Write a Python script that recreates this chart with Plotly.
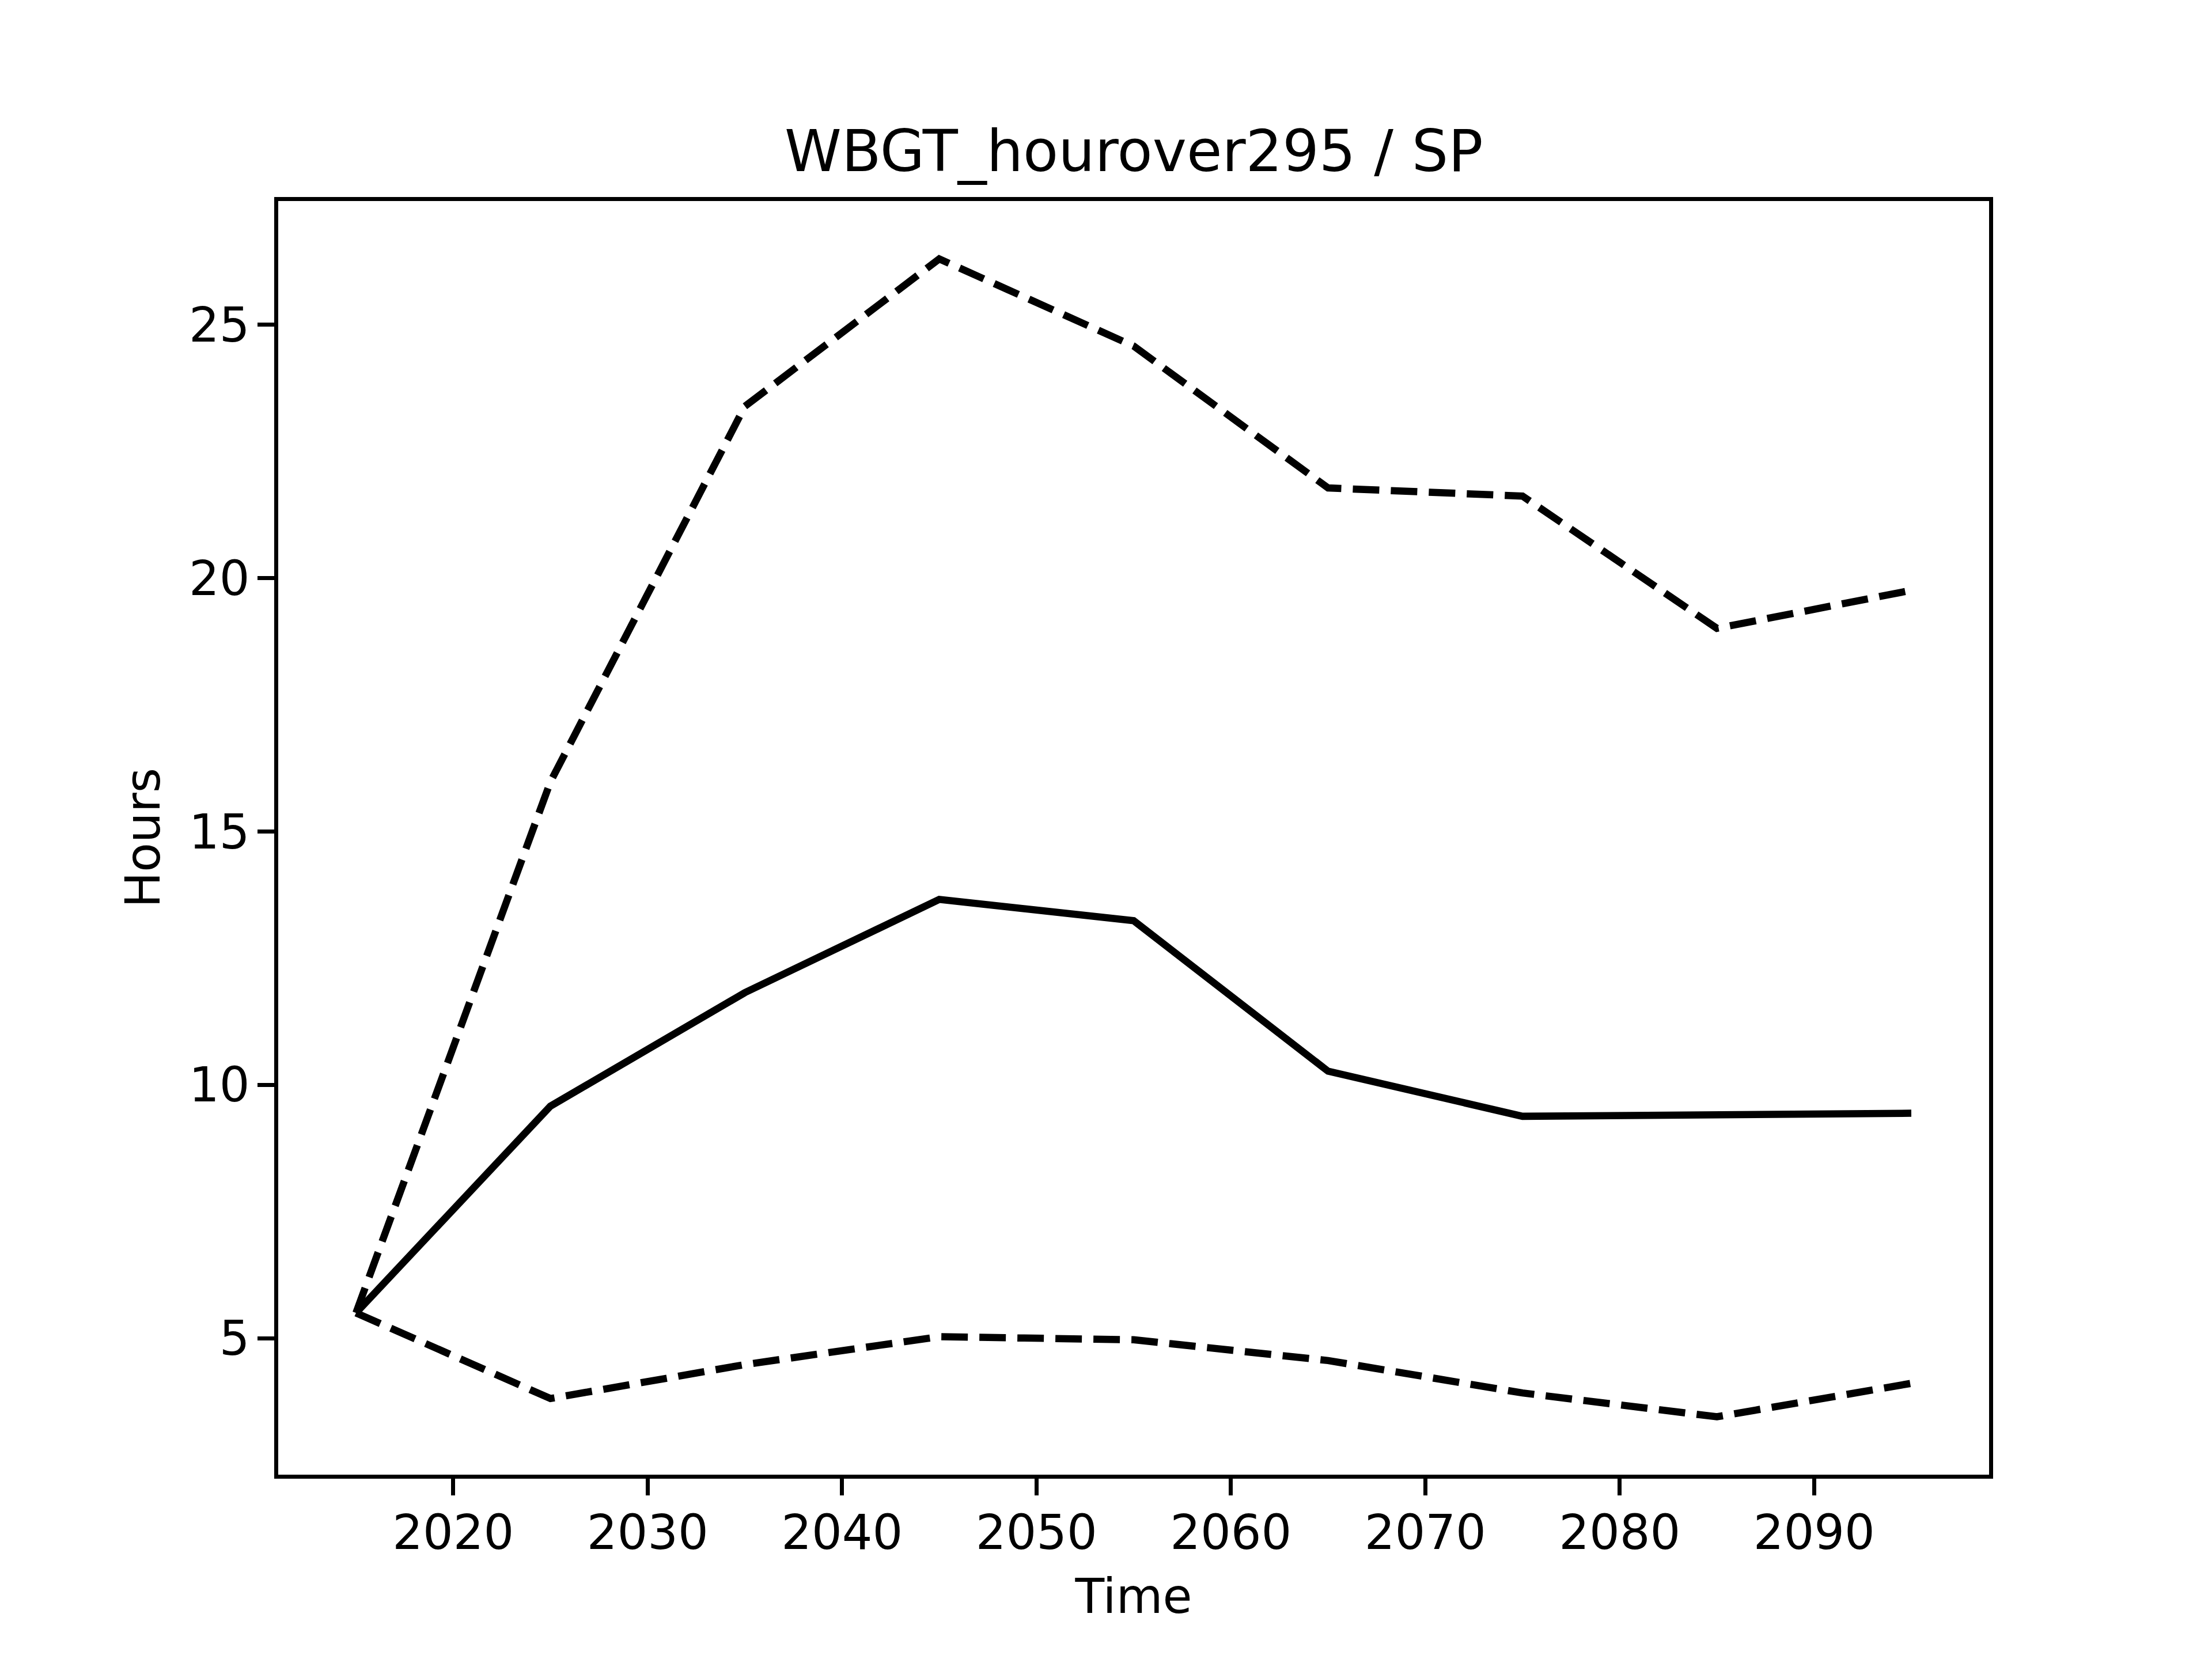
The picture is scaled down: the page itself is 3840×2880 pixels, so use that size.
import plotly.graph_objects as go

years = [2015, 2025, 2035, 2045, 2055, 2065, 2075, 2085, 2095]
mean_vals = [5.5, 9.58, 11.82, 13.66, 13.24, 10.27, 9.38, 9.41, 9.44]
upper_vals = [5.5, 15.98, 23.39, 26.30, 24.58, 21.78, 21.62, 19.01, 19.76]
lower_vals = [5.5, 3.81, 4.48, 5.03, 4.97, 4.56, 3.92, 3.45, 4.11]

title_text = "WBGT_hourover295 / SP"
x_title = "Time"
y_title = "Hours"
x_ticks = [2020, 2030, 2040, 2050, 2060, 2070, 2080, 2090]
y_ticks = [5, 10, 15, 20, 25]

W, H = 3840, 2880
L, R, T, B = 475.4, 395.4, 341.0, 328.2
FONT = "DejaVu Sans"
lw = 12.5
dash = "46px,20px"

fig = go.Figure()
fig.add_trace(go.Scatter(x=years, y=upper_vals, mode="lines",
                         line=dict(color="black", width=lw, dash=dash)))
fig.add_trace(go.Scatter(x=years, y=lower_vals, mode="lines",
                         line=dict(color="black", width=lw, dash=dash)))
fig.add_trace(go.Scatter(x=years, y=mean_vals, mode="lines",
                         line=dict(color="black", width=lw)))

allv = upper_vals + lower_vals + mean_vals
ymin, ymax = min(allv), max(allv)
ypad = (ymax - ymin) * 0.05
xpad = (max(years) - min(years)) * 0.05

axis_common = dict(
    showline=True, linecolor="black", linewidth=6.7, mirror=True,
    ticks="outside", ticklen=29, tickwidth=6.7, tickcolor="black",
    showgrid=False, zeroline=False,
    tickfont=dict(family=FONT, size=83, color="black"),
)

fig.update_layout(
    width=W, height=H,
    margin=dict(l=L, r=R, t=T, b=B),
    paper_bgcolor="white", plot_bgcolor="white",
    showlegend=False,
    xaxis=dict(range=[min(years) - xpad, max(years) + xpad],
               tickvals=x_ticks, ticktext=[str(v) for v in x_ticks],
               ticklabelstandoff=-6,
               title=dict(text=x_title, font=dict(family=FONT, size=83, color="black"), standoff=36),
               **axis_common),
    yaxis=dict(range=[ymin - ypad, ymax + ypad],
               tickvals=y_ticks, ticktext=[str(v) for v in y_ticks],
               ticklabelstandoff=-3,
               title=dict(text=y_title, font=dict(family=FONT, size=83, color="black"), standoff=25),
               **axis_common),
    annotations=[dict(text=title_text, xref="paper", yref="paper", x=0.5, y=1,
                      xanchor="center", yanchor="bottom", yshift=26, showarrow=False,
                      font=dict(family=FONT, size=100, color="black"))],
)

fig.write_html("out.html")
